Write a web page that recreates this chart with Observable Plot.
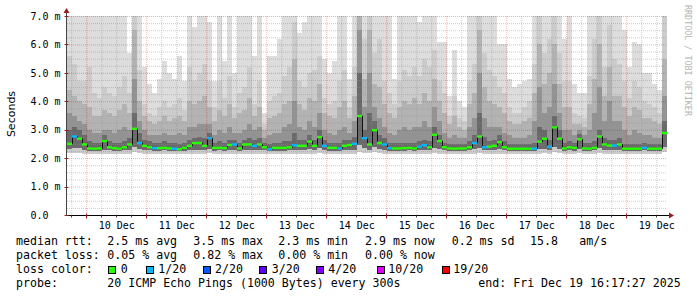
<!DOCTYPE html>
<html><head><meta charset="utf-8">
<script src="https://cdn.jsdelivr.net/npm/d3@7"></script>
<script src="https://cdn.jsdelivr.net/npm/@observablehq/plot@0.6"></script>
<style>html,body{margin:0;padding:0;background:#fff;} svg{display:block}</style>
</head><body><div id="chart"></div>
<script>
// ---------- data ----------
const startTime = Date.UTC(2025, 11, 9, 16, 17, 27);   // graph start
const endTime   = Date.UTC(2025, 11, 19, 16, 17, 27);  // graph end
const binHours = 2;

// median RTT per 2-hour bin (ms)
const median = [
 2.52,2.78,2.70,2.50,2.36,2.35,2.36,2.62,2.40,2.37,
 2.35,2.40,2.50,3.05,2.55,2.45,2.40,2.37,2.37,2.38,
 2.36,2.35,2.33,2.38,2.45,2.55,2.55,2.45,2.72,2.38,
 2.38,2.37,2.48,2.50,2.36,2.50,2.50,2.45,2.50,2.40,
 2.33,2.38,2.38,2.38,2.40,2.47,2.45,2.45,2.60,2.45,
 2.76,2.45,2.38,2.38,2.36,2.45,2.48,2.52,3.50,2.72,
 2.50,3.00,2.55,2.50,2.37,2.36,2.36,2.37,2.38,2.36,
 2.42,2.47,2.40,2.84,2.62,2.40,2.36,2.35,2.36,2.36,
 2.40,2.55,2.78,2.40,2.42,2.45,2.58,2.40,2.35,2.35,
 2.35,2.35,2.35,2.35,2.60,2.70,2.42,3.10,2.70,2.36,
 2.40,2.38,2.68,2.36,2.35,2.38,2.78,2.50,2.46,2.46,
 2.50,2.35,2.35,2.35,2.35,2.38,2.35,2.35,2.35,2.90];
// lost pings (of 20) per bin
const loss = [
 0,1,0,0,0,0,0,0,0,0, 0,0,0,0,1,0,0,1,0,0, 0,1,0,0,0,0,0,0,1,0,
 0,0,0,1,0,0,0,1,0,0, 1,0,0,0,0,1,0,0,0,0, 0,1,0,0,1,0,0,1,0,1,
 0,0,0,1,1,0,0,0,0,0, 1,1,0,0,0,0,0,0,0,0, 0,1,0,1,0,0,0,0,0,0,
 0,0,0,1,0,0,1,0,0,0, 0,0,0,0,0,0,0,0,0,1, 0,0,0,0,0,1,0,0,0,0];
// smoke: lowest ping and lower quartile
const pingMin = [
 2.18,2.18,2.17,2.15,2.15,2.15,2.15,2.16,2.15,2.15, 2.15,2.15,2.16,2.20,2.17,2.15,2.15,2.15,2.15,2.15,
 2.15,2.15,2.15,2.15,2.15,2.16,2.16,2.15,2.17,2.15, 2.15,2.15,2.15,2.16,2.15,2.16,2.16,2.15,2.16,2.15,
 2.15,2.15,2.15,2.15,2.15,2.16,2.15,2.15,2.16,2.15, 2.17,2.15,2.15,2.15,2.15,2.15,2.15,2.16,2.22,2.18,
 2.17,2.20,2.17,2.16,2.15,2.15,2.15,2.15,2.15,2.15, 2.15,2.15,2.15,2.18,2.16,2.15,2.15,2.15,2.15,2.15,
 2.15,2.16,2.18,2.15,2.15,2.15,2.16,2.15,2.15,2.15, 2.15,2.15,2.15,2.15,2.16,2.17,2.15,2.20,2.17,2.15,
 2.15,2.15,2.17,2.15,2.15,2.15,2.17,2.16,2.15,2.15, 2.16,2.15,2.15,2.15,2.15,2.15,2.15,2.15,2.15,2.22];
const pingLow = [
 2.32,2.36,2.34,2.30,2.26,2.26,2.26,2.30,2.27,2.26, 2.26,2.27,2.30,2.40,2.32,2.28,2.27,2.26,2.26,2.27,
 2.26,2.26,2.25,2.26,2.28,2.30,2.30,2.28,2.33,2.26, 2.27,2.26,2.29,2.30,2.26,2.30,2.30,2.28,2.30,2.27,
 2.25,2.26,2.26,2.26,2.27,2.29,2.28,2.28,2.31,2.28, 2.34,2.28,2.26,2.26,2.26,2.28,2.29,2.30,2.45,2.36,
 2.30,2.40,2.32,2.30,2.26,2.26,2.26,2.26,2.27,2.26, 2.27,2.29,2.27,2.36,2.32,2.27,2.26,2.26,2.26,2.26,
 2.27,2.31,2.36,2.27,2.28,2.28,2.31,2.27,2.26,2.26, 2.26,2.26,2.26,2.26,2.31,2.33,2.28,2.40,2.33,2.26,
 2.27,2.26,2.32,2.26,2.26,2.27,2.34,2.29,2.28,2.28, 2.29,2.26,2.26,2.26,2.26,2.27,2.26,2.26,2.26,2.40];
// smoke: upper ping levels, outermost (max) to innermost
const smoke1 = [
 7.5,7.5,7.5,7.5,7.5,7.5,7.5,7.5,7.5,7.5, 7.5,7.5,5.7,7.5,7.5,5.2,4.6,4.3,4.8,5.4,
 5.0,4.8,5.6,4.7,7.5,6.6,7.5,7.5,6.8,4.7, 7.5,5.4,7.5,5.0,7.5,7.5,7.5,5.6,7.5,3.6,
 5.6,5.6,6.2,7.5,7.5,7.5,6.4,6.8,7.5,7.5, 7.5,5.5,5.0,5.4,7.5,7.5,4.8,7.5,7.5,7.5,
 7.5,7.5,7.5,7.5,7.5,4.8,7.5,7.5,7.5,7.5, 6.8,7.5,7.5,7.5,6.1,6.1,4.2,5.8,4.0,3.8,
 7.5,7.5,7.5,7.5,7.5,7.5,6.0,6.0,4.8,4.5, 4.6,4.7,4.8,7.5,7.5,7.5,7.5,7.5,7.5,6.2,
 7.5,4.6,4.3,4.3,7.5,7.5,7.5,7.5,7.5,7.5, 7.5,6.5,5.2,6.1,6.0,5.0,5.0,4.6,4.4,7.5];
const smoke2 = [
 5.6,5.3,4.7,4.7,5.2,4.3,4.1,4.5,4.3,4.2, 4.5,4.9,4.3,7.5,5.1,3.9,3.6,3.5,3.8,4.0,
 3.8,3.9,4.1,3.7,5.2,4.7,5.0,5.3,4.7,3.8, 4.7,4.1,4.9,3.8,4.3,4.5,5.2,3.9,4.7,3.2,
 4.0,4.2,4.3,4.9,5.2,6.8,4.7,4.5,5.0,5.1, 5.6,4.1,3.9,4.0,4.7,5.1,3.8,5.2,7.5,6.2,
 7.5,5.7,6.2,4.7,4.3,3.9,4.7,5.1,4.9,5.2, 4.9,5.5,5.2,5.8,4.7,4.3,3.5,4.2,3.4,3.3,
 4.7,5.3,7.5,5.7,5.1,4.9,4.5,4.3,3.8,3.6, 3.6,3.8,4.0,5.3,7.5,5.7,6.2,7.5,5.7,4.7,
 4.7,3.6,3.5,3.4,4.9,6.2,7.5,5.2,6.7,5.5, 5.3,4.7,4.1,4.7,4.5,4.0,3.9,3.8,3.6,7.0];
const smoke3 = [
 4.4,4.2,4.0,3.9,3.8,3.5,3.5,3.7,3.6,3.5, 3.7,3.9,3.6,6.5,4.0,3.5,3.3,3.2,3.3,3.5,
 3.3,3.4,3.5,3.3,4.0,3.9,4.0,4.2,3.8,3.3, 3.7,3.5,3.9,3.4,3.6,3.7,4.1,3.5,3.8,3.0,
 3.4,3.5,3.6,3.9,4.0,5.5,3.9,3.7,4.1,4.0, 4.6,3.6,3.5,3.4,3.8,4.0,3.4,4.2,7.5,4.8,
 6.5,4.6,4.5,3.9,3.6,3.4,3.8,4.0,3.9,4.1, 3.9,4.3,4.0,4.8,4.0,3.6,3.2,3.5,3.1,3.0,
 3.9,4.3,6.5,4.5,4.0,3.9,3.8,3.6,3.3,3.2, 3.2,3.3,3.4,4.3,6.0,4.6,5.0,6.0,4.6,3.8,
 3.8,3.2,3.2,3.1,3.9,4.8,6.0,4.2,5.2,4.2, 4.2,3.8,3.5,3.8,3.7,3.4,3.4,3.3,3.2,5.5];
const smoke4 = [
 3.6,3.5,3.3,3.2,3.0,2.9,2.9,3.0,3.0,2.9, 3.0,3.1,3.0,4.8,3.3,3.0,2.8,2.8,2.8,2.9,
 2.8,2.8,2.9,2.8,3.1,3.1,3.2,3.2,3.2,2.8, 3.0,2.9,3.1,2.9,2.9,3.0,3.2,3.0,3.1,2.7,
 2.8,2.9,2.9,3.1,3.2,4.0,3.1,3.0,3.3,3.1, 3.6,3.0,2.9,2.8,3.0,3.1,2.9,3.3,6.5,3.8,
 5.0,3.8,3.4,3.1,2.9,2.8,3.0,3.1,3.0,3.1, 3.1,3.3,3.1,3.8,3.3,2.9,2.7,2.8,2.7,2.7,
 3.1,3.4,5.0,3.4,3.1,3.1,3.1,2.9,2.8,2.7, 2.7,2.7,2.8,3.3,4.5,3.6,3.8,4.6,3.6,3.0,
 3.0,2.8,3.0,2.8,3.0,3.6,4.5,3.3,4.0,3.3, 3.3,3.0,2.8,3.0,2.9,2.8,2.8,2.7,2.7,4.2];
const smoke5 = [
 3.0,3.1,3.0,2.8,2.6,2.55,2.55,2.8,2.6,2.55, 2.55,2.6,2.7,3.6,2.9,2.65,2.6,2.55,2.55,2.6,
 2.55,2.55,2.5,2.55,2.65,2.7,2.75,2.7,2.9,2.55, 2.6,2.55,2.65,2.65,2.55,2.65,2.7,2.65,2.7,2.55,
 2.5,2.55,2.55,2.6,2.6,2.9,2.65,2.65,2.8,2.65, 3.0,2.65,2.55,2.55,2.55,2.65,2.65,2.75,5.0,3.0,
 3.6,3.3,2.8,2.7,2.55,2.55,2.55,2.55,2.55,2.55, 2.6,2.65,2.6,3.1,2.8,2.55,2.5,2.5,2.5,2.5,
 2.6,2.8,3.6,2.75,2.6,2.65,2.8,2.6,2.5,2.5, 2.5,2.5,2.5,2.55,3.1,3.0,2.65,3.5,3.0,2.55,
 2.6,2.55,2.85,2.55,2.55,2.6,3.0,2.7,2.65,2.65, 2.7,2.5,2.5,2.5,2.5,2.55,2.5,2.5,2.5,3.3];

const dayNums   = [10,11,12,13,14,15,16,17,18,19];
const dayLabels = ["10 Dec","11 Dec","12 Dec","13 Dec","14 Dec","15 Dec","16 Dec","17 Dec","18 Dec","19 Dec"];
const yTicks    = [0,1,2,3,4,5,6,7];
const yTickLabels = ["0.0\u00a0\u00a0","1.0 m","2.0 m","3.0 m","4.0 m","5.0 m","6.0 m","7.0 m"];

const lossSteps  = [0,1,2,3,4,10,19];
const lossLabels = ["0","1/20","2/20","3/20","4/20","10/20","19/20"];
const lossColors = ["#26ff00","#00b8ff","#0059ff","#5e00ff","#7e00ff","#dd00ff","#ff0000"];

const legendRtt  = ["median rtt:","2.5 ms avg","3.5 ms max","2.3 ms min","2.9 ms now","0.2 ms sd","15.8","am/s"];
const legendLoss = ["packet loss:","0.05 % avg","0.82 % max","0.00 % min","0.00 % now"];
const legendProbe = ["probe:","20 ICMP Echo Pings (1000 Bytes) every 300s","end: Fri Dec 19 16:17:27 2025"];

// ---------- build ----------
const MONO = "'DejaVu Sans Mono', monospace";
const binMs = binHours * 3600e3;
const bins = median.map((m, i) => ({
  t0: new Date(startTime + i * binMs),
  t1: new Date(startTime + (i + 1) * binMs),
  tc: new Date(startTime + (i + 0.5) * binMs),
  med: m, loss: loss[i], lo: pingMin[i], lq: pingLow[i],
  s1: smoke1[i], s2: smoke2[i], s3: smoke3[i], s4: smoke4[i], s5: smoke5[i]
}));
const startDate = new Date(startTime), endDate = new Date(endTime);
const midnights = dayNums.map(d => new Date(Date.UTC(2025, 11, d)));
const noons = dayNums.map(d => new Date(Date.UTC(2025, 11, d, 12)));
const sixHours = d3.utcHour.every(6).range(startDate, endDate).filter(d => d.getUTCHours() !== 0);
const minorY = d3.range(1, 29).map(k => k * 0.25).filter(v => v % 1 !== 0);

const smokeFill = ["#dddddd", "#cccccc", "#b3b3b3", "#939393", "#6a6a6a"];
const band = (top, bottom, fill) =>
  Plot.rect(bins, {x1: "t0", x2: "t1", y1: bottom, y2: top, fill, clip: true, shapeRendering: "crispEdges"});

const gridMinor = {stroke: "#8f8f8f", strokeOpacity: 0.45, strokeDasharray: "1,1"};
const gridMajor = {stroke: "#e50000", strokeOpacity: 0.33, strokeDasharray: "1,1"};

const plot = Plot.plot({
  width: 697, height: 297,
  marginLeft: 67, marginRight: 30, marginTop: 16, marginBottom: 82,
  style: {background: "#fff", fontFamily: MONO, fontSize: "10px", overflow: "visible"},
  x: {type: "utc", domain: [startDate, endDate], axis: null},
  y: {domain: [0, 7], axis: null},
  color: {type: "ordinal", domain: lossSteps, range: lossColors},
  marks: [
    band("s1", "lo", smokeFill[0]),
    band("s2", "lo", smokeFill[1]),
    band("s3", "lq", smokeFill[2]),
    band("s4", "lq", smokeFill[3]),
    band("s5", "lq", smokeFill[4]),
    Plot.ruleY(minorY, gridMinor),
    Plot.ruleX(sixHours, gridMinor),
    Plot.ruleY(yTicks.filter(v => v > 0), gridMajor),
    Plot.ruleX(midnights, gridMajor),
    Plot.line(bins, {x: "tc", y: "med", curve: "step", stroke: "#111", strokeWidth: 1}),
    Plot.ruleY(bins, {x1: "t0", x2: "t1", y: "med", stroke: "loss", strokeWidth: 2.4}),
    Plot.text(yTicks, {x: startDate, y: d => d, text: (d, i) => yTickLabels[i], textAnchor: "end",
      dx: -7, fontFamily: MONO, fontSize: 10, lineAnchor: "middle", fill: "#000"}),
    Plot.text(noons, {x: d => d, y: 0, text: (d, i) => dayLabels[i], dy: 10, lineAnchor: "middle",
      fontFamily: MONO, fontSize: 10, fill: "#000"})
  ]
});
document.getElementById("chart").appendChild(plot);

// ---------- decorations ----------
const sx = plot.scale("x"), sy = plot.scale("y");
const X0 = Math.round(sx.apply(startDate)) - 0.5, Y0 = Math.round(sy.apply(0)) + 0.5;
const XE = Math.round(sx.apply(endDate));
const svg = d3.select(plot);
const g = svg.append("g").attr("text-anchor", "start");
// axes
g.append("line").attr("x1", X0).attr("x2", XE + 3).attr("y1", Y0).attr("y2", Y0).attr("stroke", "#000");
g.append("line").attr("x1", X0).attr("x2", X0).attr("y1", Y0).attr("y2", sy.apply(7) - 4).attr("stroke", "#444");
g.append("path").attr("d", `M${XE + 2},${Y0 - 3}L${XE + 7},${Y0}L${XE + 2},${Y0 + 3}Z`).attr("fill", "#9b1c1c");
g.append("path").attr("d", `M${X0 - 3},${sy.apply(7) - 3}L${X0},${sy.apply(7) - 8}L${X0 + 3},${sy.apply(7) - 3}Z`).attr("fill", "#9b1c1c");
// axis ticks
for (const d of sixHours) { const x = Math.round(sx.apply(d)) + 0.5;
  g.append("line").attr("x1", x).attr("x2", x).attr("y1", Y0).attr("y2", Y0 + 2).attr("stroke", "#444"); }
for (const d of midnights) { const x = Math.round(sx.apply(d)) + 0.5;
  g.append("line").attr("x1", x).attr("x2", x).attr("y1", Y0 - 2).attr("y2", Y0 + 3).attr("stroke", "#9b1c1c"); }
for (const v of yTicks) { const y = Math.round(sy.apply(v)) + 0.5;
  g.append("line").attr("x1", X0 - 2).attr("x2", X0 + 2).attr("y1", y).attr("y2", y).attr("stroke", "#9b1c1c"); }

// y title
g.append("text").attr("transform", "translate(15,114) rotate(-90)").attr("text-anchor", "middle")
  .attr("font-family", "'DejaVu Sans', sans-serif").attr("font-size", 11).attr("fill", "#000").text("Seconds");
// watermark
g.append("text").attr("transform", "translate(685,5) rotate(90)").attr("text-anchor", "start")
  .attr("font-family", MONO).attr("font-size", 8.4).attr("fill", "#b4b4b4").text("RRDTOOL / TOBI OETIKER");

// legend
const LF = 11.6;
const put = (x, y, s) => g.append("text").attr("x", x).attr("y", y).attr("font-family", MONO)
  .attr("text-anchor", "start").attr("font-size", LF).attr("fill", "#000").style("white-space", "pre").text(s);
const rttX = [16, 107.3, 193.3, 278.3, 365, 451.7, 530, 579.3];
legendRtt.forEach((s, i) => put(rttX[i], 245, s));
const lossX = [16, 107.3, 193.3, 278.3, 365];
legendLoss.forEach((s, i) => put(lossX[i], 259, s));
put(16, 273, "loss color:");
const boxX = [108.3, 145.7, 202.7, 259.3, 316, 376.7, 441.7];
const labX = [120.7, 158.3, 215, 271.7, 328.3, 388.3, 453.3];
lossSteps.forEach((v, i) => {
  g.append("rect").attr("x", Math.round(boxX[i]) + 0.5).attr("y", 266.5).attr("width", 7).attr("height", 7)
    .attr("fill", plot.scale("color").apply(v)).attr("stroke", "#000").attr("stroke-width", 1);
  put(labX[i], 273, lossLabels[i]);
});
const probeX = [16, 107.3, 478.3];
legendProbe.forEach((s, i) => put(probeX[i], 287, s));
</script></body></html>
